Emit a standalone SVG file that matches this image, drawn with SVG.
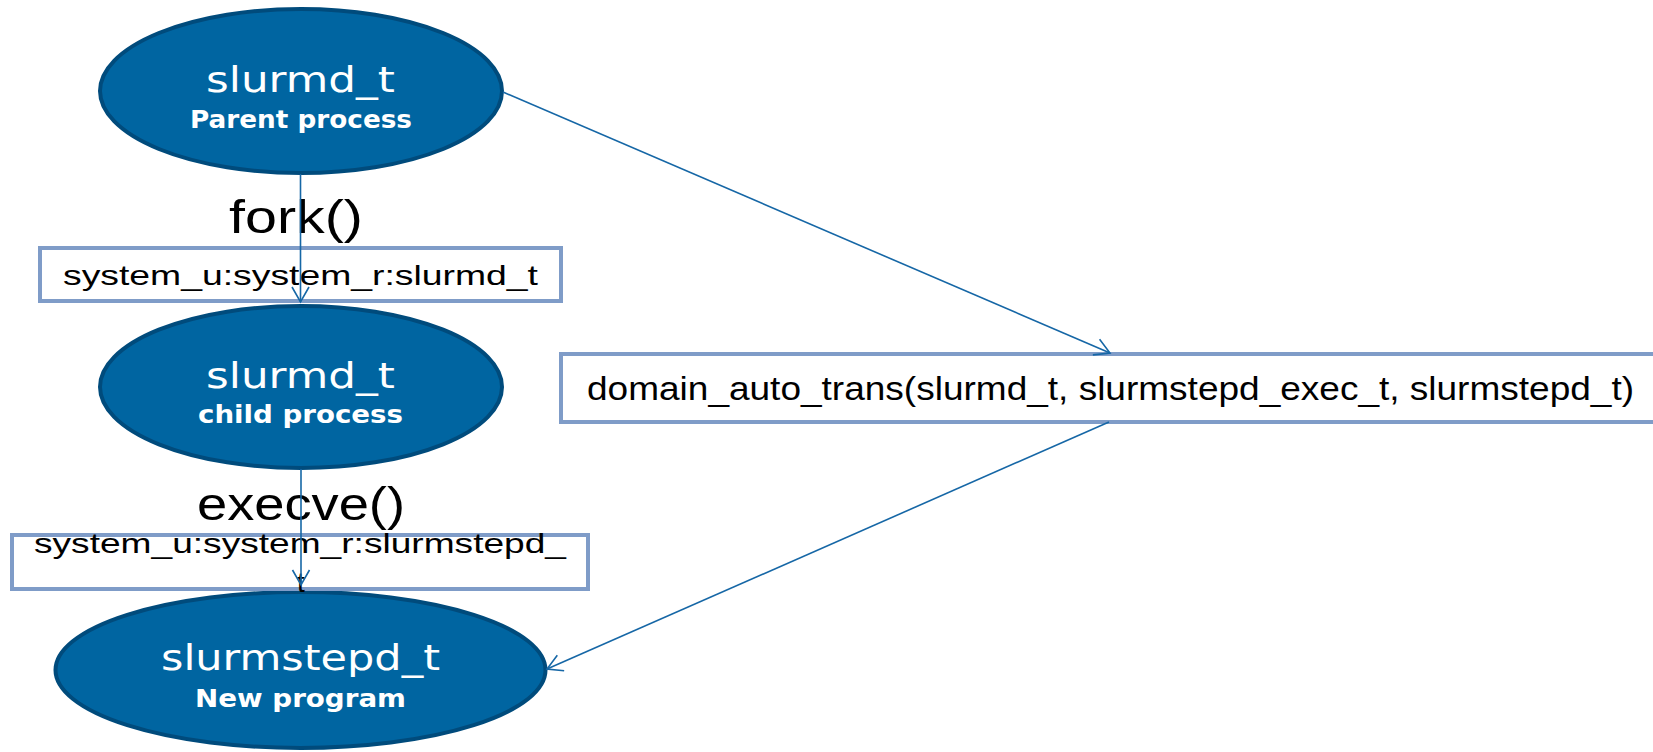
<svg xmlns="http://www.w3.org/2000/svg" width="1653" height="752" viewBox="0 0 1653 752">
<style>
.node ellipse{fill:#0065a1;stroke:#004b7c;stroke-width:4}
.t1{font-family:"DejaVu Sans",Verdana,sans-serif;font-size:36px;fill:#fff;text-anchor:middle}
.t2{font-family:"DejaVu Sans",Verdana,sans-serif;font-size:24px;font-weight:bold;fill:#fff;text-anchor:middle}
.box rect{fill:#fff;stroke:#7f9cc8;stroke-width:4}
.lbl{font-family:"Liberation Sans",Arial,sans-serif;fill:#000;text-anchor:middle}
.edge{stroke:#1667a6;stroke-width:1.6;fill:none;marker-end:url(#arr)}
</style>
<defs>
<marker id="arr" viewBox="-16 -10 18 20" refX="0" refY="0" markerWidth="18" markerHeight="20" markerUnits="userSpaceOnUse" orient="auto">
<path d="M-15,-8.5 L0,0 L-15,8.5" fill="none" stroke="#1667a6" stroke-width="1.6"/>
</marker>
</defs>
<g id="n-parent" class="node"><ellipse cx="301" cy="91" rx="201" ry="82"/>
<text class="t1" x="300.5" y="92" textLength="189" lengthAdjust="spacingAndGlyphs">slurmd_t</text>
<text class="t2" x="301" y="128" textLength="222" lengthAdjust="spacingAndGlyphs">Parent process</text></g>
<g id="n-child" class="node"><ellipse cx="301" cy="387" rx="201" ry="81"/>
<text class="t1" x="300.5" y="388" textLength="189" lengthAdjust="spacingAndGlyphs">slurmd_t</text>
<text class="t2" x="300.5" y="423" textLength="205" lengthAdjust="spacingAndGlyphs">child process</text></g>
<g id="n-new" class="node"><ellipse cx="300.5" cy="670" rx="245" ry="78"/>
<text class="t1" x="300.5" y="670" textLength="279" lengthAdjust="spacingAndGlyphs">slurmstepd_t</text>
<text class="t2" x="300.5" y="707" textLength="211" lengthAdjust="spacingAndGlyphs">New program</text></g>
<g id="boxes">
<g id="box-fork" class="box"><rect x="40" y="248" width="521" height="53"/>
<text class="lbl" x="300.5" y="285" font-size="28" textLength="475" lengthAdjust="spacingAndGlyphs">system_u:system_r:slurmd_t</text></g>
<g id="box-exec" class="box"><rect x="12" y="535" width="576" height="54"/>
<text class="lbl" x="300" y="553" font-size="28" textLength="532" lengthAdjust="spacingAndGlyphs">system_u:system_r:slurmstepd_</text>
<text class="lbl" x="301" y="592" font-size="28">t</text></g>
<g id="box-trans" class="box"><rect x="561" y="354" width="1110" height="68"/>
<text class="lbl" x="1110.5" y="400" font-size="34" textLength="1047" lengthAdjust="spacingAndGlyphs">domain_auto_trans(slurmd_t, slurmstepd_exec_t, slurmstepd_t)</text></g>
</g>
<g id="labels">
<text class="lbl" x="296" y="233" font-size="46" textLength="134" lengthAdjust="spacingAndGlyphs">fork()</text>
<text class="lbl" x="301" y="520" font-size="46" textLength="208" lengthAdjust="spacingAndGlyphs">execve()</text>
</g>
<g id="connectors">
<line class="edge" x1="300.5" y1="174" x2="300.5" y2="302"/>
<line class="edge" x1="301" y1="469" x2="301" y2="585"/>
<line class="edge" x1="503" y1="92" x2="1110" y2="353"/>
<line class="edge" x1="1109" y1="422" x2="547" y2="669"/>
</g>
</svg>
